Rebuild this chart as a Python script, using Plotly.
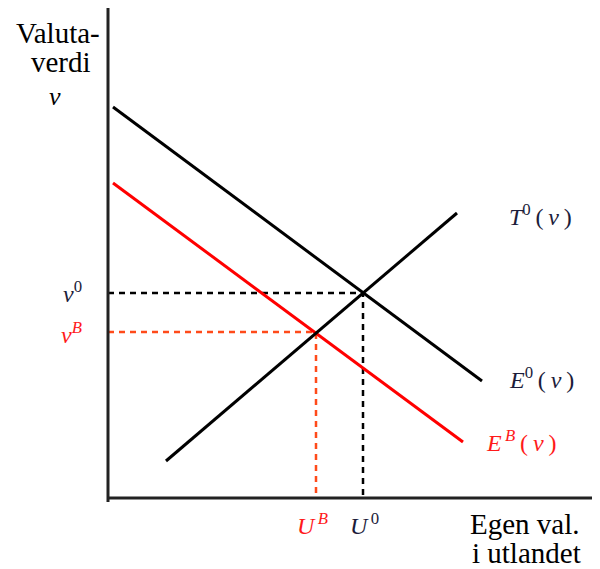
import plotly.graph_objects as go

# Model coordinates: x = quantity (Egen val. i utlandet), y = currency value v
axis_x = [0, 0, None, 0, 484]
axis_y = [490, -4, None, 0, 0]

E0_x = [5, 374]
E0_y = [391, 117]

EB_x = [5, 355]
EB_y = [315, 56]

T0_x = [58, 349]
T0_y = [37, 285]

U0, v0 = 255, 205
UB, vB = 208, 166

SERIF = "Liberation Serif, Times New Roman, serif"
DARK = "#1c1c3a"
RED = "#ff1a1a"
ORANGE = "#ff4a1a"
TS = "\u2009"

fig = go.Figure()

# dashed guides
fig.add_trace(go.Scatter(x=[0, U0, U0], y=[v0, v0, 0], mode="lines",
                         line=dict(color="black", width=2.5, dash="6px,5px"), hoverinfo="skip"))
fig.add_trace(go.Scatter(x=[0, UB, UB], y=[vB, vB, 0], mode="lines",
                         line=dict(color=ORANGE, width=2.5, dash="6px,5px"), hoverinfo="skip"))

# curves
fig.add_trace(go.Scatter(x=E0_x, y=E0_y, mode="lines", line=dict(color="black", width=3), hoverinfo="skip"))
fig.add_trace(go.Scatter(x=EB_x, y=EB_y, mode="lines", line=dict(color="#ff0000", width=3), hoverinfo="skip"))
fig.add_trace(go.Scatter(x=T0_x, y=T0_y, mode="lines", line=dict(color="black", width=3), hoverinfo="skip"))

# axes
fig.add_trace(go.Scatter(x=axis_x, y=axis_y, mode="lines", line=dict(color="#222222", width=3),
                         hoverinfo="skip", connectgaps=False))

def ann(x, y, text, size, color, xa="center"):
    return dict(x=x, y=y, text=text, xanchor=xa, yanchor="middle", xref="x", yref="y",
                showarrow=False, font=dict(family=SERIF, size=size, color=color))

anns = [
    ann(-50, 465, "Valuta-", 29, "black"),
    ann(-47, 436, "verdi", 29, "black"),
    ann(-53, 402, "<i>v</i>", 26, "black"),
    ann(-24, v0 + 1, "<i>v</i><sup>0</sup>", 24, DARK, "right"),
    ann(-24, vB - 1, "<i>v</i><sup><i>B</i></sup>", 24, RED, "right"),
    ann(UB - 4, -26, "<i>U</i><sup>" + TS + "<i>B</i></sup>", 24, RED),
    ann(U0 + 1, -26, "<i>U</i><sup>" + TS + "0</sup>", 24, DARK),
    ann(417, -26, "Egen val.", 29, "black"),
    ann(418, -55, "i utlandet", 29, "black"),
    ann(399, 283, "<i>T</i><sup>0</sup>" + TS + "(" + TS + "<i>v</i>" + TS + ")", 24, DARK, "left"),
    ann(399, 120, "<i>E</i><sup>0</sup>" + TS + "(" + TS + "<i>v</i>" + TS + ")", 24, DARK, "left"),
    ann(376, 57, "<i>E</i><sup>" + TS + "<i>B</i></sup>" + TS + "(" + TS + "<i>v</i>" + TS + ")", 24, RED, "left"),
]

fig.update_layout(
    width=600, height=569,
    margin=dict(l=0, r=0, t=0, b=0),
    paper_bgcolor="white", plot_bgcolor="white",
    showlegend=False,
    annotations=anns,
    xaxis=dict(range=[-108, 492], visible=False, fixedrange=True),
    yaxis=dict(range=[-71, 498], visible=False, fixedrange=True),
)

fig.write_html("out.html", config={"displayModeBar": False},
               post_script="document.body.style.margin='0';")
